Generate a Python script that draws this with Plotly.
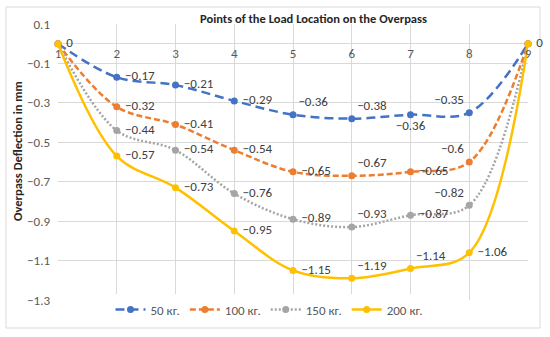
import plotly.graph_objects as go

points = [1, 2, 3, 4, 5, 6, 7, 8, 9]
series_names = ["50 кг.", "100 кг.", "150 кг.", "200 кг."]
s50 = [0, -0.17, -0.21, -0.29, -0.36, -0.38, -0.36, -0.35, 0]
s100 = [0, -0.32, -0.41, -0.54, -0.65, -0.67, -0.65, -0.6, 0]
s150 = [0, -0.44, -0.54, -0.76, -0.89, -0.93, -0.87, -0.82, 0]
s200 = [0, -0.57, -0.73, -0.95, -1.15, -1.19, -1.14, -1.06, 0]
y_ticks = [0.1, -0.1, -0.3, -0.5, -0.7, -0.9, -1.1, -1.3]

colors = ["#4472C4", "#ED7D31", "#A5A5A5", "#FFC000"]
dashes = ["9px,5px", "6px,3px", "2px,2px", "solid"]
MR, TR, TL, BC = "middle right", "top right", "top left", "bottom center"
positions = [
    [MR, MR, MR, MR, TR, TR, BC, TL, MR],
    [MR, MR, MR, MR, MR, TR, MR, TL, MR],
    [MR, MR, MR, MR, MR, TR, MR, TL, MR],
    [MR, MR, MR, MR, MR, TR, TR, MR, MR],
]
show_end = [False, False, False, True]

FONT = "Carlito, Lato, sans-serif"


def fmt(v, pos):
    s = "0" if v == 0 else ("%g" % v).replace("-", "\u2212")
    if pos == MR:
        s = "\u00a0" + s
    return s


fig = go.Figure()
for i, (name, vals) in enumerate(zip(series_names, [s50, s100, s150, s200])):
    texts = [fmt(v, p) for v, p in zip(vals, positions[i])]
    if not show_end[i]:
        texts[0] = ""
        texts[-1] = ""
    fig.add_trace(go.Scatter(
        x=points, y=vals, name=name, mode="lines+markers+text",
        line=dict(color=colors[i], width=2.5, dash=dashes[i], shape="spline", smoothing=1.0),
        marker=dict(color=colors[i], size=7),
        text=texts, textposition=positions[i],
        textfont=dict(family=FONT, size=13, color="#404040"),
        cliponaxis=False,
    ))

fig.update_layout(
    width=550, height=337,
    margin=dict(l=58, r=22, t=24, b=37, autoexpand=False),
    plot_bgcolor="white", paper_bgcolor="white",
    font=dict(family=FONT, size=13, color="#595959"),
    showlegend=True,
    legend=dict(orientation="h", x=0.45, xanchor="center", y=0.02, yanchor="top",
                font=dict(family=FONT, size=13, color="#595959"),
                itemwidth=30, tracegroupgap=0),
    xaxis=dict(range=[1, 9], tickvals=points, ticktext=[str(p) for p in points],
               showgrid=True, gridcolor="#D9D9D9", gridwidth=1,
               zeroline=False, showline=False, anchor="free", automargin=False,
               position=1.3 / 1.4, side="bottom", ticks="", ticklen=0,
               tickfont=dict(family=FONT, size=13, color="#595959")),
    yaxis=dict(range=[-1.3, 0.1], tickvals=y_ticks, tickformat=".1f",
               showgrid=True, gridcolor="#D9D9D9", gridwidth=1,
               zeroline=True, zerolinecolor="#D9D9D9", zerolinewidth=1,
               showline=False, ticks="", automargin=False, ticklabelstandoff=7,
               tickfont=dict(family=FONT, size=13, color="#595959")),
    annotations=[
        dict(text="<b>Points of the Load Location on the Overpass</b>", xref="paper", yref="paper",
             x=(313 - 58) / 470, y=(300 - 19) / 276, xanchor="center", yanchor="middle",
             showarrow=False, font=dict(family=FONT, size=12.5, color="#262626")),
        dict(text="<b>Overpass Deflection in mm</b>", xref="paper", yref="paper",
             x=(17 - 58) / 470, y=(300 - 151) / 276, xanchor="center", yanchor="middle",
             textangle=-90, showarrow=False, font=dict(family=FONT, size=12.5, color="#262626")),
    ],
    shapes=[
        dict(type="rect", xref="paper", yref="paper",
             x0=(6 - 58) / 470, x1=(540 - 58) / 470, y0=(300 - 328) / 276, y1=(300 - 7) / 276,
             line=dict(color="#D9D9D9", width=1), fillcolor="rgba(0,0,0,0)", layer="below"),
    ],
)

fig.write_html("out.html", config={"displayModeBar": False},
               post_script="document.body.style.margin='0px';")
